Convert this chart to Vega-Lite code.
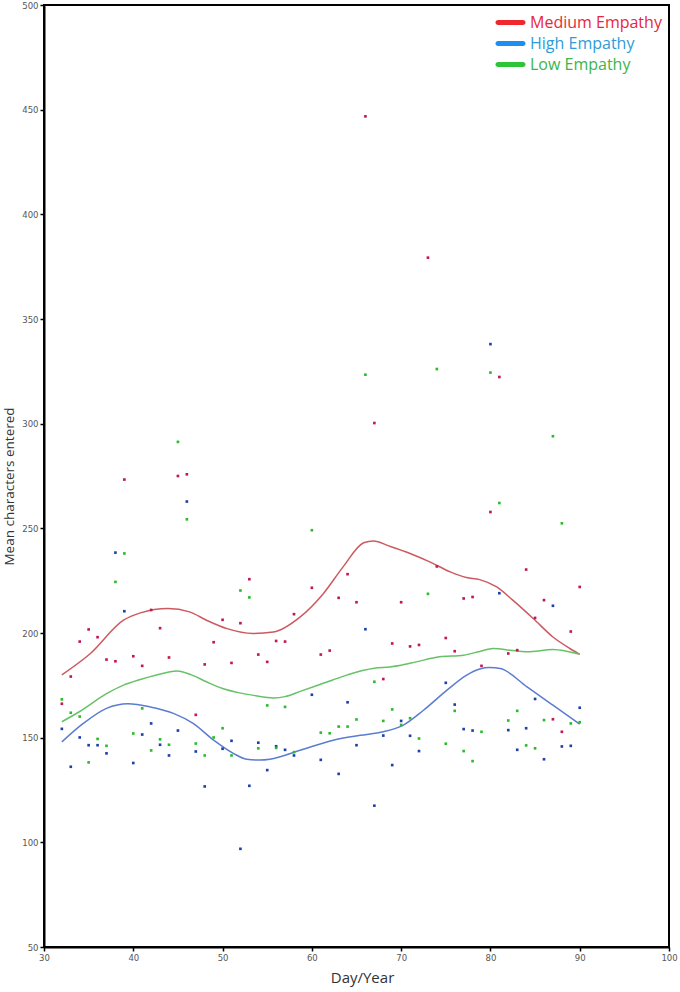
{
  "$schema": "https://vega.github.io/schema/vega-lite/v6.json",
  "width": 625,
  "height": 942,
  "autosize": {"type": "none"},
  "padding": {"left": 44, "top": 5, "right": 11, "bottom": 45},
  "background": "white",
  "config": {"view": {"stroke": "#000", "strokeWidth": 2}},
  "datasets": {
    "points": [
      {"group": "Medium Empathy", "day": 32, "value": 166.2},
      {"group": "Medium Empathy", "day": 33, "value": 179.2},
      {"group": "Medium Empathy", "day": 34, "value": 195.9},
      {"group": "Medium Empathy", "day": 35, "value": 201.7},
      {"group": "Medium Empathy", "day": 36, "value": 198},
      {"group": "Medium Empathy", "day": 37, "value": 187.3},
      {"group": "Medium Empathy", "day": 38, "value": 186.5},
      {"group": "Medium Empathy", "day": 39, "value": 273.3},
      {"group": "Medium Empathy", "day": 40, "value": 188.9},
      {"group": "Medium Empathy", "day": 41, "value": 184.3},
      {"group": "Medium Empathy", "day": 42, "value": 211},
      {"group": "Medium Empathy", "day": 43, "value": 202.3},
      {"group": "Medium Empathy", "day": 44, "value": 188.3},
      {"group": "Medium Empathy", "day": 45, "value": 275},
      {"group": "Medium Empathy", "day": 46, "value": 275.8},
      {"group": "Medium Empathy", "day": 47, "value": 160.9},
      {"group": "Medium Empathy", "day": 48, "value": 185},
      {"group": "Medium Empathy", "day": 49, "value": 195.6},
      {"group": "Medium Empathy", "day": 50, "value": 206.3},
      {"group": "Medium Empathy", "day": 51, "value": 185.7},
      {"group": "Medium Empathy", "day": 52, "value": 204.7},
      {"group": "Medium Empathy", "day": 53, "value": 225.7},
      {"group": "Medium Empathy", "day": 54, "value": 189.7},
      {"group": "Medium Empathy", "day": 55, "value": 186.2},
      {"group": "Medium Empathy", "day": 56, "value": 196.2},
      {"group": "Medium Empathy", "day": 57, "value": 195.9},
      {"group": "Medium Empathy", "day": 58, "value": 209},
      {"group": "Medium Empathy", "day": 60, "value": 221.6},
      {"group": "Medium Empathy", "day": 61, "value": 189.7},
      {"group": "Medium Empathy", "day": 62, "value": 191.6},
      {"group": "Medium Empathy", "day": 63, "value": 216.8},
      {"group": "Medium Empathy", "day": 64, "value": 228.1},
      {"group": "Medium Empathy", "day": 65, "value": 214.7},
      {"group": "Medium Empathy", "day": 66, "value": 446.8},
      {"group": "Medium Empathy", "day": 67, "value": 300.3},
      {"group": "Medium Empathy", "day": 68, "value": 178},
      {"group": "Medium Empathy", "day": 69, "value": 195},
      {"group": "Medium Empathy", "day": 70, "value": 214.7},
      {"group": "Medium Empathy", "day": 71, "value": 193.6},
      {"group": "Medium Empathy", "day": 72, "value": 194.3},
      {"group": "Medium Empathy", "day": 73, "value": 379.3},
      {"group": "Medium Empathy", "day": 74, "value": 231.8},
      {"group": "Medium Empathy", "day": 75, "value": 197.6},
      {"group": "Medium Empathy", "day": 76, "value": 191.3},
      {"group": "Medium Empathy", "day": 77, "value": 216.5},
      {"group": "Medium Empathy", "day": 78, "value": 217.2},
      {"group": "Medium Empathy", "day": 79, "value": 184.3},
      {"group": "Medium Empathy", "day": 80, "value": 257.8},
      {"group": "Medium Empathy", "day": 81, "value": 322.3},
      {"group": "Medium Empathy", "day": 82, "value": 190.2},
      {"group": "Medium Empathy", "day": 83, "value": 191.8},
      {"group": "Medium Empathy", "day": 84, "value": 230.3},
      {"group": "Medium Empathy", "day": 85, "value": 207.2},
      {"group": "Medium Empathy", "day": 86, "value": 215.7},
      {"group": "Medium Empathy", "day": 87, "value": 158.8},
      {"group": "Medium Empathy", "day": 88, "value": 152.8},
      {"group": "Medium Empathy", "day": 89, "value": 200.7},
      {"group": "Medium Empathy", "day": 90, "value": 222},
      {"group": "High Empathy", "day": 32, "value": 154.2},
      {"group": "High Empathy", "day": 33, "value": 136.1},
      {"group": "High Empathy", "day": 34, "value": 150.1},
      {"group": "High Empathy", "day": 35, "value": 146.4},
      {"group": "High Empathy", "day": 36, "value": 146.4},
      {"group": "High Empathy", "day": 37, "value": 142.5},
      {"group": "High Empathy", "day": 38, "value": 238.4},
      {"group": "High Empathy", "day": 39, "value": 210.4},
      {"group": "High Empathy", "day": 40, "value": 137.9},
      {"group": "High Empathy", "day": 41, "value": 151.5},
      {"group": "High Empathy", "day": 42, "value": 156.8},
      {"group": "High Empathy", "day": 43, "value": 146.6},
      {"group": "High Empathy", "day": 44, "value": 141.5},
      {"group": "High Empathy", "day": 45, "value": 153.4},
      {"group": "High Empathy", "day": 46, "value": 262.8},
      {"group": "High Empathy", "day": 47, "value": 143.4},
      {"group": "High Empathy", "day": 48, "value": 126.7},
      {"group": "High Empathy", "day": 50, "value": 144.7},
      {"group": "High Empathy", "day": 51, "value": 148.5},
      {"group": "High Empathy", "day": 52, "value": 96.9},
      {"group": "High Empathy", "day": 53, "value": 127},
      {"group": "High Empathy", "day": 54, "value": 147.6},
      {"group": "High Empathy", "day": 55, "value": 134.5},
      {"group": "High Empathy", "day": 56, "value": 145.9},
      {"group": "High Empathy", "day": 57, "value": 144.2},
      {"group": "High Empathy", "day": 58, "value": 141.5},
      {"group": "High Empathy", "day": 60, "value": 170.5},
      {"group": "High Empathy", "day": 61, "value": 139.4},
      {"group": "High Empathy", "day": 63, "value": 132.7},
      {"group": "High Empathy", "day": 64, "value": 166.9},
      {"group": "High Empathy", "day": 65, "value": 146.4},
      {"group": "High Empathy", "day": 66, "value": 201.8},
      {"group": "High Empathy", "day": 67, "value": 117.5},
      {"group": "High Empathy", "day": 68, "value": 151},
      {"group": "High Empathy", "day": 69, "value": 136.9},
      {"group": "High Empathy", "day": 70, "value": 158},
      {"group": "High Empathy", "day": 71, "value": 150.9},
      {"group": "High Empathy", "day": 72, "value": 143.6},
      {"group": "High Empathy", "day": 75, "value": 176.2},
      {"group": "High Empathy", "day": 76, "value": 165.8},
      {"group": "High Empathy", "day": 77, "value": 154.1},
      {"group": "High Empathy", "day": 78, "value": 153.4},
      {"group": "High Empathy", "day": 80, "value": 338},
      {"group": "High Empathy", "day": 81, "value": 219},
      {"group": "High Empathy", "day": 82, "value": 153.6},
      {"group": "High Empathy", "day": 83, "value": 144.2},
      {"group": "High Empathy", "day": 84, "value": 154.5},
      {"group": "High Empathy", "day": 85, "value": 168.5},
      {"group": "High Empathy", "day": 86, "value": 139.7},
      {"group": "High Empathy", "day": 87, "value": 213},
      {"group": "High Empathy", "day": 88, "value": 145.8},
      {"group": "High Empathy", "day": 89, "value": 146.1},
      {"group": "High Empathy", "day": 90, "value": 164.3},
      {"group": "Low Empathy", "day": 32, "value": 168.3},
      {"group": "Low Empathy", "day": 33, "value": 161.9},
      {"group": "Low Empathy", "day": 34, "value": 160.1},
      {"group": "Low Empathy", "day": 35, "value": 138.2},
      {"group": "Low Empathy", "day": 36, "value": 149.4},
      {"group": "Low Empathy", "day": 37, "value": 146.1},
      {"group": "Low Empathy", "day": 38, "value": 224.4},
      {"group": "Low Empathy", "day": 39, "value": 238},
      {"group": "Low Empathy", "day": 40, "value": 152},
      {"group": "Low Empathy", "day": 41, "value": 164},
      {"group": "Low Empathy", "day": 42, "value": 143.9},
      {"group": "Low Empathy", "day": 43, "value": 149.2},
      {"group": "Low Empathy", "day": 44, "value": 146.6},
      {"group": "Low Empathy", "day": 45, "value": 291.3},
      {"group": "Low Empathy", "day": 46, "value": 254.3},
      {"group": "Low Empathy", "day": 47, "value": 147.2},
      {"group": "Low Empathy", "day": 48, "value": 141.5},
      {"group": "Low Empathy", "day": 49, "value": 150.1},
      {"group": "Low Empathy", "day": 50, "value": 154.5},
      {"group": "Low Empathy", "day": 51, "value": 141.5},
      {"group": "Low Empathy", "day": 52, "value": 220.3},
      {"group": "Low Empathy", "day": 53, "value": 217},
      {"group": "Low Empathy", "day": 54, "value": 144.9},
      {"group": "Low Empathy", "day": 55, "value": 165.4},
      {"group": "Low Empathy", "day": 56, "value": 145.1},
      {"group": "Low Empathy", "day": 57, "value": 164.7},
      {"group": "Low Empathy", "day": 58, "value": 143.1},
      {"group": "Low Empathy", "day": 60, "value": 249.1},
      {"group": "Low Empathy", "day": 61, "value": 152.4},
      {"group": "Low Empathy", "day": 62, "value": 152.1},
      {"group": "Low Empathy", "day": 63, "value": 155.3},
      {"group": "Low Empathy", "day": 64, "value": 155.3},
      {"group": "Low Empathy", "day": 65, "value": 158.7},
      {"group": "Low Empathy", "day": 66, "value": 323.4},
      {"group": "Low Empathy", "day": 67, "value": 176.7},
      {"group": "Low Empathy", "day": 68, "value": 158},
      {"group": "Low Empathy", "day": 69, "value": 163.5},
      {"group": "Low Empathy", "day": 70, "value": 156.1},
      {"group": "Low Empathy", "day": 71, "value": 159.3},
      {"group": "Low Empathy", "day": 72, "value": 149.6},
      {"group": "Low Empathy", "day": 73, "value": 218.7},
      {"group": "Low Empathy", "day": 74, "value": 326.1},
      {"group": "Low Empathy", "day": 75, "value": 147.1},
      {"group": "Low Empathy", "day": 76, "value": 162.8},
      {"group": "Low Empathy", "day": 77, "value": 143.6},
      {"group": "Low Empathy", "day": 78, "value": 138.8},
      {"group": "Low Empathy", "day": 79, "value": 152.8},
      {"group": "Low Empathy", "day": 80, "value": 324.4},
      {"group": "Low Empathy", "day": 81, "value": 262.1},
      {"group": "Low Empathy", "day": 82, "value": 158.2},
      {"group": "Low Empathy", "day": 83, "value": 162.8},
      {"group": "Low Empathy", "day": 84, "value": 146.3},
      {"group": "Low Empathy", "day": 85, "value": 144.9},
      {"group": "Low Empathy", "day": 86, "value": 158.4},
      {"group": "Low Empathy", "day": 87, "value": 294},
      {"group": "Low Empathy", "day": 88, "value": 252.4},
      {"group": "Low Empathy", "day": 89, "value": 156.8},
      {"group": "Low Empathy", "day": 90, "value": 157.4}
    ],
    "curves": [
      {"group": "Medium Empathy", "day": 32, "value": 180},
      {"group": "Medium Empathy", "day": 35.2, "value": 190.2},
      {"group": "Medium Empathy", "day": 38.9, "value": 206.1},
      {"group": "Medium Empathy", "day": 40.8, "value": 209.6},
      {"group": "Medium Empathy", "day": 43.9, "value": 211.7},
      {"group": "Medium Empathy", "day": 46.3, "value": 210.1},
      {"group": "Medium Empathy", "day": 48.2, "value": 206.1},
      {"group": "Medium Empathy", "day": 50.5, "value": 202.1},
      {"group": "Medium Empathy", "day": 53.4, "value": 199.8},
      {"group": "Medium Empathy", "day": 55.7, "value": 200.5},
      {"group": "Medium Empathy", "day": 58.7, "value": 207.7},
      {"group": "Medium Empathy", "day": 61.3, "value": 218.9},
      {"group": "Medium Empathy", "day": 63.5, "value": 231.6},
      {"group": "Medium Empathy", "day": 65.8, "value": 243.1},
      {"group": "Medium Empathy", "day": 66.9, "value": 244},
      {"group": "Medium Empathy", "day": 68.7, "value": 241.5},
      {"group": "Medium Empathy", "day": 71, "value": 238},
      {"group": "Medium Empathy", "day": 73.2, "value": 234},
      {"group": "Medium Empathy", "day": 75.5, "value": 229.2},
      {"group": "Medium Empathy", "day": 77.3, "value": 226.5},
      {"group": "Medium Empathy", "day": 78.8, "value": 225.5},
      {"group": "Medium Empathy", "day": 80.7, "value": 222},
      {"group": "Medium Empathy", "day": 82.5, "value": 215.7},
      {"group": "Medium Empathy", "day": 84.8, "value": 206.9},
      {"group": "Medium Empathy", "day": 87, "value": 198.1},
      {"group": "Medium Empathy", "day": 88.9, "value": 192.6},
      {"group": "Medium Empathy", "day": 90, "value": 189.8},
      {"group": "High Empathy", "day": 32, "value": 148},
      {"group": "High Empathy", "day": 34.4, "value": 156.8},
      {"group": "High Empathy", "day": 37, "value": 164},
      {"group": "High Empathy", "day": 39.4, "value": 166.2},
      {"group": "High Empathy", "day": 41.9, "value": 164.7},
      {"group": "High Empathy", "day": 44.5, "value": 161.6},
      {"group": "High Empathy", "day": 46.7, "value": 156.8},
      {"group": "High Empathy", "day": 49, "value": 148.8},
      {"group": "High Empathy", "day": 51.2, "value": 142.5},
      {"group": "High Empathy", "day": 52.7, "value": 139.7},
      {"group": "High Empathy", "day": 54.2, "value": 139.3},
      {"group": "High Empathy", "day": 55.3, "value": 139.7},
      {"group": "High Empathy", "day": 58.7, "value": 144},
      {"group": "High Empathy", "day": 62.4, "value": 148.8},
      {"group": "High Empathy", "day": 65.4, "value": 151.1},
      {"group": "High Empathy", "day": 68, "value": 152.8},
      {"group": "High Empathy", "day": 70.2, "value": 155.9},
      {"group": "High Empathy", "day": 72.5, "value": 163.1},
      {"group": "High Empathy", "day": 75.1, "value": 172.6},
      {"group": "High Empathy", "day": 77.3, "value": 179.8},
      {"group": "High Empathy", "day": 78.8, "value": 182.8},
      {"group": "High Empathy", "day": 79.9, "value": 183.5},
      {"group": "High Empathy", "day": 81.1, "value": 183},
      {"group": "High Empathy", "day": 84.1, "value": 174.3},
      {"group": "High Empathy", "day": 87, "value": 165.5},
      {"group": "High Empathy", "day": 90, "value": 156.5},
      {"group": "Low Empathy", "day": 32, "value": 157.6},
      {"group": "Low Empathy", "day": 34, "value": 162.5},
      {"group": "Low Empathy", "day": 37, "value": 171},
      {"group": "Low Empathy", "day": 38.9, "value": 175.1},
      {"group": "Low Empathy", "day": 40.8, "value": 177.8},
      {"group": "Low Empathy", "day": 42.5, "value": 179.8},
      {"group": "Low Empathy", "day": 44.9, "value": 181.8},
      {"group": "Low Empathy", "day": 46.5, "value": 180},
      {"group": "Low Empathy", "day": 48.2, "value": 176.7},
      {"group": "Low Empathy", "day": 50, "value": 173.5},
      {"group": "Low Empathy", "day": 51.9, "value": 171.4},
      {"group": "Low Empathy", "day": 53.5, "value": 170.2},
      {"group": "Low Empathy", "day": 55.7, "value": 169},
      {"group": "Low Empathy", "day": 57, "value": 169.6},
      {"group": "Low Empathy", "day": 58.7, "value": 172.1},
      {"group": "Low Empathy", "day": 60.5, "value": 174.8},
      {"group": "Low Empathy", "day": 62.4, "value": 177.7},
      {"group": "Low Empathy", "day": 64, "value": 180},
      {"group": "Low Empathy", "day": 65.8, "value": 182.2},
      {"group": "Low Empathy", "day": 67, "value": 183.2},
      {"group": "Low Empathy", "day": 68.7, "value": 183.8},
      {"group": "Low Empathy", "day": 70, "value": 184.6},
      {"group": "Low Empathy", "day": 71.7, "value": 186.2},
      {"group": "Low Empathy", "day": 74.3, "value": 188.6},
      {"group": "Low Empathy", "day": 77, "value": 189.4},
      {"group": "Low Empathy", "day": 78.8, "value": 191.2},
      {"group": "Low Empathy", "day": 80.3, "value": 192.6},
      {"group": "Low Empathy", "day": 82.2, "value": 191.8},
      {"group": "Low Empathy", "day": 84.1, "value": 191},
      {"group": "Low Empathy", "day": 87, "value": 192.1},
      {"group": "Low Empathy", "day": 88.5, "value": 191.3},
      {"group": "Low Empathy", "day": 90, "value": 189.8}
    ]
  },
  "encoding": {
    "x": {
      "field": "day", "type": "quantitative",
      "scale": {"domain": [30, 100], "nice": false, "zero": false},
      "axis": {
        "title": "Day/Year", "values": [30, 40, 50, 60, 70, 80, 90, 100], "grid": false,
        "domainColor": "#000", "domainWidth": 2, "tickColor": "#000", "tickSize": 4, "tickWidth": 1.5,
        "labelFont": "DejaVu Sans", "labelFontSize": 8.5, "labelColor": "#555", "labelPadding": 2,
        "labelFlush": false,
        "titleFont": "Open Sans", "titleFontSize": 15, "titleFontWeight": "normal", "titleColor": "#333",
        "titlePadding": 9, "titleX": 318
      }
    },
    "y": {
      "field": "value", "type": "quantitative",
      "scale": {"domain": [50, 500], "nice": false, "zero": false},
      "axis": {
        "title": "Mean characters entered", "values": [50, 100, 150, 200, 250, 300, 350, 400, 450, 500], "grid": false,
        "domainColor": "#000", "domainWidth": 2, "tickColor": "#000", "tickSize": 4, "tickWidth": 1.5,
        "labelFont": "DejaVu Sans", "labelFontSize": 8.5, "labelColor": "#555", "labelPadding": 2,
        "labelFlush": false,
        "titleFont": "Open Sans", "titleFontSize": 13.5, "titleFontWeight": "normal", "titleColor": "#333",
        "titlePadding": 5, "titleY": 481
      }
    }
  },
  "layer": [
    {
      "data": {"name": "curves"},
      "mark": {"type": "line", "interpolate": "monotone", "strokeWidth": 1.5},
      "encoding": {
        "stroke": {
          "field": "group", "type": "nominal",
          "scale": {"range": ["#5b7ccf", "#66c266", "#cc5a60"]},
          "legend": null
        }
      }
    },
    {
      "data": {"name": "points"},
      "mark": {"type": "square", "size": 7, "opacity": 1},
      "encoding": {
        "color": {
          "field": "group", "type": "nominal",
          "scale": {"range": ["#1f40a8", "#2cbb2c", "#c01850"]},
          "legend": null
        }
      }
    },
    {
      "data": {"name": "points"},
      "mark": {"type": "square", "size": 0, "opacity": 0},
      "encoding": {
        "fill": {
          "field": "group", "type": "nominal",
          "scale": {"domain": ["Medium Empathy", "High Empathy", "Low Empathy"], "range": ["#f0282e", "#1e8ff0", "#2ec438"]},
          "legend": {
            "title": null, "orient": "none", "legendX": 454, "legendY": 5,
            "symbolType": "M-1,-0.2L1,-0.2A0.2,0.2 0 0 1 1,0.2L-1,0.2A0.2,0.2 0 0 1 -1,-0.2Z",
            "symbolSize": 625, "symbolOpacity": 1, "symbolStrokeWidth": 0,
            "labelFont": "Open Sans", "labelFontSize": 16, "labelOffset": 7, "rowPadding": -1,
            "labelColor": {"expr": "datum.value === 'Medium Empathy' ? '#e8283a' : datum.value === 'High Empathy' ? '#2e9cd8' : '#3bb54a'"}
          }
        }
      }
    }
  ]
}
